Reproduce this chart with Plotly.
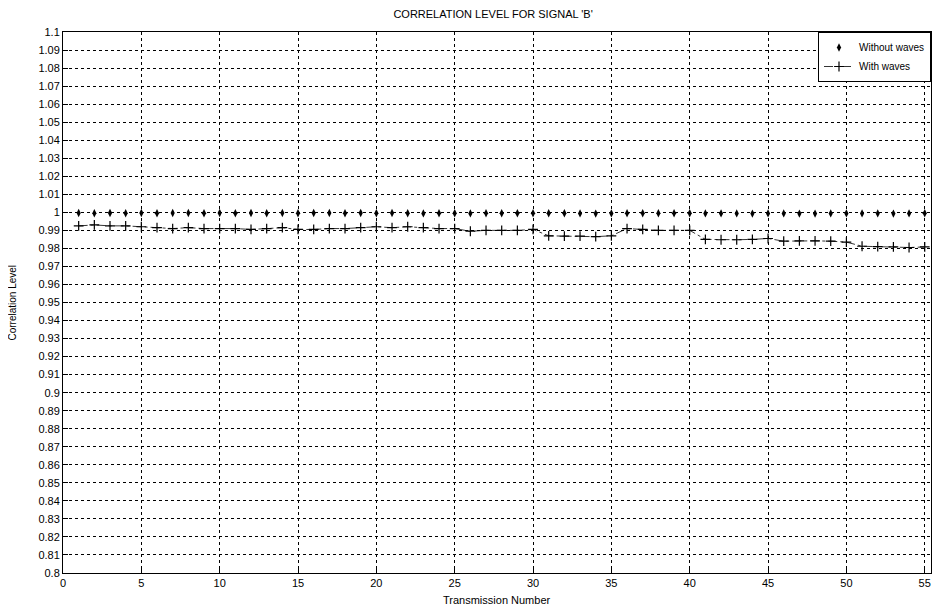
import plotly.graph_objects as go

transmission = list(range(1, 56))

without_waves = [
    0.9996, 0.9995, 0.9996, 0.9995, 0.9996, 0.9995, 0.9996, 0.9996, 0.9995, 0.9996,
    0.9995, 0.9996, 0.9995, 0.9996, 0.9995, 0.9996, 0.9996, 0.9995, 0.9996, 0.9995,
    0.9996, 0.9995, 0.9994, 0.9995, 0.9995, 0.9994, 0.9995, 0.9995, 0.9995, 0.9995,
    0.9995, 0.9995, 0.9994, 0.9993, 0.9994, 0.9995, 0.9995, 0.9995, 0.9995, 0.9995,
    0.9994, 0.9994, 0.9994, 0.9993, 0.9994, 0.9994, 0.9993, 0.9993, 0.9994, 0.9994,
    0.9994, 0.9994, 0.9993, 0.9994, 0.9995,
]

with_waves = [
    0.9925, 0.9930, 0.9925, 0.9925, 0.9920, 0.9915, 0.9910, 0.9915, 0.9910, 0.9910,
    0.9910, 0.9905, 0.9910, 0.9915, 0.9905, 0.9905, 0.9910, 0.9910, 0.9915, 0.9920,
    0.9915, 0.9920, 0.9915, 0.9910, 0.9910, 0.9895, 0.9900, 0.9900, 0.9900, 0.9905,
    0.9870, 0.9868, 0.9868, 0.9865, 0.9870, 0.9910, 0.9905, 0.9900, 0.9900, 0.9900,
    0.9850, 0.9848, 0.9848, 0.9850, 0.9855, 0.9840, 0.9842, 0.9842, 0.9840, 0.9835,
    0.9812, 0.9810, 0.9808, 0.9805, 0.9808,
]

x_ticks = [0, 5, 10, 15, 20, 25, 30, 35, 40, 45, 50, 55]
y_ticks = [round(0.80 + 0.01 * i, 2) for i in range(31)]
y_tick_labels = ["%g" % v for v in y_ticks]

FONT = "Liberation Sans, Arial, sans-serif"

fig = go.Figure()
fig.add_trace(go.Scatter(
    x=transmission, y=without_waves, name="Without waves",
    mode="markers",
    marker=dict(symbol="diamond-tall", size=6, color="black"),
))
fig.add_trace(go.Scatter(
    x=transmission, y=with_waves, name="With waves",
    mode="lines+markers",
    line=dict(color="black", width=0.8, dash="dashdot"),
    marker=dict(symbol="cross-thin", size=7, line=dict(color="black", width=1.2)),
))

axis_common = dict(
    showline=True, mirror=True, linecolor="black", linewidth=1,
    ticks="inside", ticklen=5, tickcolor="black",
    showgrid=True, gridcolor="black", gridwidth=1, griddash="3px,3px",
    zeroline=False, automargin=False,
    tickfont=dict(family=FONT, size=11, color="black"),
)

fig.update_layout(
    width=924, height=597,
    paper_bgcolor="white", plot_bgcolor="white",
    margin=dict(l=55, r=1, t=24, b=32),
    title=dict(text="CORRELATION LEVEL FOR SIGNAL 'B'", x=0.525, xanchor="center",
               y=0.997, yanchor="top",
               font=dict(family=FONT, size=11, color="black")),
    xaxis=dict(range=[0, 55.4], tickvals=x_ticks, **axis_common),
    yaxis=dict(range=[0.8, 1.1], tickvals=y_ticks, ticktext=y_tick_labels,
               **axis_common),
    legend=dict(x=1, xanchor="right", y=1, yanchor="top",
                bgcolor="white", bordercolor="black", borderwidth=1,
                font=dict(family=FONT, size=10, color="black"),
                itemwidth=30, tracegroupgap=0),
    showlegend=True,
    annotations=[
        dict(text="Transmission Number", xref="paper", yref="paper",
             x=0.5, y=0, xanchor="center", yanchor="middle", yshift=-27,
             showarrow=False, font=dict(family=FONT, size=11, color="black")),
        dict(text="Correlation Level", xref="paper", yref="paper",
             x=0, y=0.5, xanchor="center", yanchor="middle", xshift=-51,
             textangle=-90, showarrow=False,
             font=dict(family=FONT, size=10, color="black")),
    ],
)

fig.write_html("out.html")
